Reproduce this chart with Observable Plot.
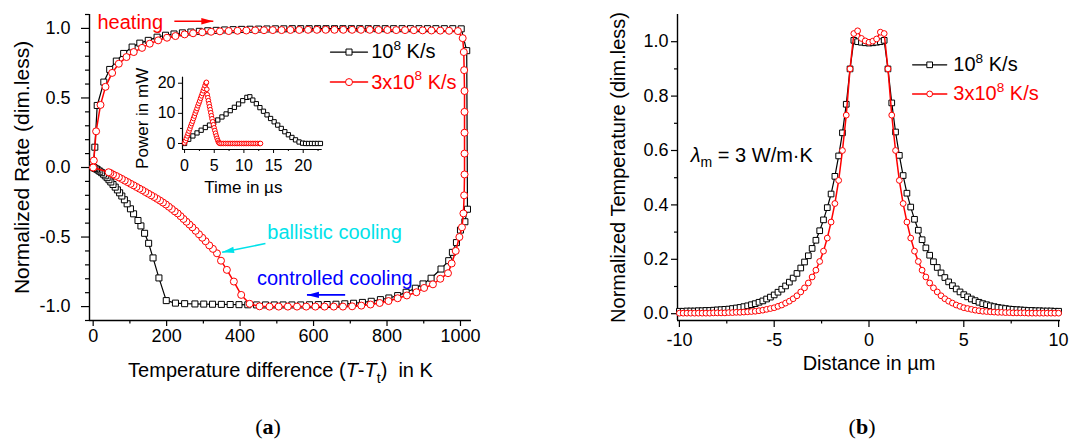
<!DOCTYPE html>
<html><head><meta charset="utf-8">
<script src="https://cdn.jsdelivr.net/npm/d3@7"></script>
<script src="https://cdn.jsdelivr.net/npm/@observablehq/plot@0.6"></script>
<style>
html,body{margin:0;padding:0;background:#fff;}
#fig{position:relative;width:1069px;height:439px;overflow:hidden;font-family:"Liberation Sans",Arial,sans-serif;}
.panel{position:absolute;}
.cap{position:absolute;top:414px;font-family:"Liberation Serif","Times New Roman",serif;font-size:22px;transform:translateX(-50%);color:#000;}
</style></head>
<body>
<div id="fig">
  <div id="pa" class="panel" style="left:0;top:0;width:540px;height:390px"></div>
  <div id="pin" class="panel" style="left:100px;top:60px;width:240px;height:150px"></div>
  <div id="pb" class="panel" style="left:560px;top:0;width:509px;height:390px"></div>
  <div class="cap" style="left:268px">(<b>a</b>)</div>
  <div class="cap" style="left:862px">(<b>b</b>)</div>
</div>
<script>
// ---------------- DATA: panel (a) normalized rate vs temperature difference ----------------
// [T - Tt in K, normalized rate]
const blackHeating = [[0,0],[4.5,0.146],[11,0.446],[29,0.614],[45,0.705],[63,0.765],[83,0.82],[106,0.866],[127,0.894],[150,0.914],[174,0.937],[197,0.951],[220,0.96],[243,0.968],[266,0.974],[289,0.979],[312,0.983],[335,0.986],[358,0.989],[381,0.991],[404,0.993],[427,0.994],[450,0.995],[473,0.996],[496,0.997],[519,0.997],[542,0.998],[565,0.998],[588,0.998],[611,0.998],[634,0.998],[657,0.998],[680,0.998],[703,0.998],[726,0.998],[749,0.998],[772,0.998],[795,0.998],[818,0.998],[841,0.998],[864,0.998],[887,0.998],[910,0.998],[933,0.998],[956,0.998],[979,0.998],[1002,0.997]];
const blackCooling = [[1017,0.84],[1019,-0.3],[1012,-0.39],[1000,-0.45],[989,-0.54],[978,-0.61],[968,-0.67],[947,-0.73],[920,-0.796],[898,-0.837],[877,-0.868],[852,-0.897],[829,-0.921],[805,-0.938],[782,-0.95],[757,-0.962],[733,-0.97],[709,-0.976],[685,-0.98],[661,-0.983],[637,-0.985],[613,-0.986],[589,-0.987],[565,-0.988],[541,-0.988],[517,-0.988],[493,-0.988],[469,-0.988],[445,-0.988],[421,-0.987],[397,-0.986],[373,-0.985],[349,-0.984],[325,-0.983],[301,-0.982],[277,-0.981],[249,-0.979],[224,-0.975],[199,-0.957],[179,-0.794],[163,-0.65],[151,-0.545],[140,-0.473],[130,-0.42],[122,-0.381],[110,-0.333],[101.5,-0.297],[92.5,-0.261],[85,-0.232],[78,-0.205],[72,-0.182],[66,-0.161],[60,-0.141],[54,-0.122],[48,-0.104],[43,-0.088],[38,-0.073],[33,-0.06],[28,-0.048],[23,-0.037],[18,-0.027],[13,-0.018],[9,-0.011],[5,-0.006],[2,-0.002],[0,0]];
const redHeating = [[0,0],[1.7,0.05],[8,0.26],[20,0.45],[33.5,0.58],[51.6,0.68],[69.7,0.746],[90.6,0.794],[110.5,0.83],[133,0.86],[154,0.89],[177,0.914],[201,0.933],[224,0.945],[249,0.957],[272,0.965],[297,0.972],[321,0.976],[345,0.979],[369,0.981],[393,0.983],[417,0.985],[441,0.986],[465,0.987],[489,0.988],[513,0.988],[537,0.989],[561,0.989],[585,0.99],[609,0.99],[633,0.99],[657,0.99],[681,0.99],[705,0.99],[729,0.99],[753,0.99],[777,0.989],[801,0.989],[825,0.988],[849,0.988],[873,0.987],[897,0.986],[921,0.985],[945,0.984],[969,0.983],[993,0.981]];
const redCooling = [[1006,0.93],[1009,0.83],[1010,0.7],[1011,0.55],[1011,0.4],[1011,0.25],[1011,0.1],[1011,-0.05],[1010,-0.2],[1008,-0.33],[1004,-0.43],[997,-0.5],[987,-0.6],[976,-0.69],[966,-0.76],[945,-0.8],[925,-0.84],[901,-0.866],[880,-0.897],[854,-0.92],[829,-0.94],[804,-0.96],[780,-0.974],[755,-0.985],[730,-0.993],[705,-0.998],[680,-1.0],[655,-1.0],[630,-1.0],[605,-1.0],[580,-1.0],[555,-1.0],[530,-1.0],[505,-1.0],[480,-1.0],[453,-0.998],[426,-0.98],[403,-0.916],[383,-0.82],[364,-0.736],[348,-0.67],[337,-0.617],[326,-0.585],[316,-0.56],[306,-0.53],[297,-0.505],[288,-0.48],[279,-0.455],[270,-0.43],[262,-0.41],[254,-0.39],[246,-0.37],[238,-0.35],[230,-0.33],[222,-0.315],[214,-0.298],[206,-0.282],[198,-0.266],[190,-0.252],[182,-0.238],[174,-0.225],[166,-0.212],[158,-0.2],[150,-0.188],[142,-0.176],[134,-0.163],[126,-0.152],[118,-0.14],[110,-0.128],[102,-0.117],[94,-0.105],[86,-0.094],[78,-0.082],[70,-0.071],[62,-0.06],[54,-0.05],[47,-0.04],[42,-0.034],[0,0]];
const rateXTicks = [0,200,400,600,800,1000];
const rateXMinor = [100,300,500,700,900];
const rateYTicks = [-1,-0.5,0,0.5,1];
const rateYMinor = [-1.1,-0.9,-0.8,-0.7,-0.6,-0.4,-0.3,-0.2,-0.1,0.1,0.2,0.3,0.4,0.6,0.7,0.8,0.9,1.1];

// ---------------- DATA: inset, power vs time ----------------
// [time in µs, power in mW]
const insetBlack = [[0,0],[0.7,1.4],[1.4,2.5],[2.1,3.5],[2.8,4.4],[3.5,5.3],[4.2,6.1],[4.9,6.9],[5.6,7.8],[6.3,8.8],[7.0,9.8],[7.7,10.9],[8.4,12.0],[9.1,13.1],[9.8,14.2],[10.5,15.3],[11.0,15.5],[11.5,14.4],[12.1,13.2],[12.7,11.9],[13.3,10.7],[13.9,9.5],[14.5,8.3],[15.1,7.2],[15.7,6.1],[16.3,5.0],[16.9,3.9],[17.5,2.9],[18.1,2.0],[18.7,1.2],[19.3,0.5],[19.9,0.1],[20.4,0],[20.9,0],[21.4,0],[21.9,0],[22.4,0],[22.9,0]];
const insetRed = [[0,0.2],[0.15,0.9],[0.3,1.7],[0.45,2.5],[0.6,3.3],[0.75,4.1],[0.9,4.9],[1.05,5.8],[1.2,6.6],[1.35,7.4],[1.5,8.3],[1.65,9.1],[1.8,10.0],[1.95,10.8],[2.1,11.6],[2.25,12.5],[2.4,13.3],[2.55,14.1],[2.7,15.0],[2.85,15.8],[3.0,16.6],[3.15,17.5],[3.3,18.3],[3.45,19.2],[3.6,20.0],[3.68,20.3],[3.75,18.0],[3.82,16.2],[3.92,15.2],[4.02,14.2],[4.12,13.2],[4.22,12.2],[4.32,11.2],[4.42,10.2],[4.52,9.2],[4.62,8.2],[4.74,7.2],[4.86,6.2],[4.98,5.2],[5.1,4.3],[5.22,3.4],[5.35,2.5],[5.48,1.7],[5.6,1.0],[5.72,0.4],[5.85,0.1],[6.0,0],[6.3,0],[6.6,0],[6.9,0],[7.2,0],[7.5,0],[7.8,0],[8.1,0],[8.4,0],[8.7,0],[9.0,0],[9.3,0],[9.6,0],[9.9,0],[10.2,0],[10.5,0],[10.8,0],[11.1,0],[11.4,0],[11.7,0],[12.0,0],[12.3,0],[12.6,0],[12.8,0]];
const insetXTicks = [0,5,10,15,20];
const insetXMinor = [2.5,7.5,12.5,17.5,22.5];
const insetYTicks = [0,10,20];
const insetYMinor = [5,15];

// ---------------- DATA: panel (b) normalized temperature vs distance ----------------
const distance = [-10,-9.8,-9.6,-9.4,-9.2,-9,-8.8,-8.6,-8.4,-8.2,-8,-7.8,-7.6,-7.4,-7.2,-7,-6.8,-6.6,-6.4,-6.2,-6,-5.8,-5.6,-5.4,-5.2,-5,-4.8,-4.6,-4.4,-4.2,-4,-3.8,-3.6,-3.4,-3.2,-3,-2.8,-2.6,-2.4,-2.2,-2,-1.8,-1.6,-1.4,-1.2,-1,-0.8,-0.6,-0.4,-0.2,0,0.2,0.4,0.6,0.8,1,1.2,1.4,1.6,1.8,2,2.2,2.4,2.6,2.8,3,3.2,3.4,3.6,3.8,4,4.2,4.4,4.6,4.8,5,5.2,5.4,5.6,5.8,6,6.2,6.4,6.6,6.8,7,7.2,7.4,7.6,7.8,8,8.2,8.4,8.6,8.8,9,9.2,9.4,9.6,9.8,10];
const tempBlack = [0.009,0.009,0.010,0.010,0.010,0.011,0.011,0.012,0.012,0.013,0.014,0.015,0.016,0.017,0.019,0.021,0.023,0.026,0.029,0.033,0.037,0.042,0.047,0.054,0.061,0.069,0.079,0.09,0.102,0.116,0.131,0.148,0.168,0.19,0.213,0.24,0.27,0.305,0.345,0.39,0.44,0.505,0.58,0.665,0.77,0.90,1.005,1.0,0.998,0.996,0.995,0.996,0.998,1.0,1.005,0.90,0.775,0.668,0.582,0.508,0.443,0.392,0.347,0.307,0.272,0.242,0.215,0.191,0.17,0.15,0.133,0.117,0.103,0.091,0.08,0.07,0.062,0.054,0.048,0.042,0.037,0.033,0.029,0.026,0.023,0.021,0.019,0.017,0.016,0.015,0.014,0.013,0.012,0.012,0.011,0.011,0.010,0.010,0.010,0.009,0.009];
const tempRed = [0.002,0.002,0.002,0.002,0.002,0.002,0.002,0.002,0.002,0.003,0.003,0.003,0.003,0.004,0.004,0.005,0.005,0.006,0.007,0.008,0.009,0.011,0.013,0.016,0.019,0.022,0.027,0.032,0.039,0.046,0.055,0.066,0.08,0.095,0.113,0.135,0.16,0.192,0.23,0.278,0.337,0.405,0.49,0.60,0.73,0.90,1.03,1.04,1.012,1.003,0.998,1.002,1.01,1.035,1.03,0.90,0.73,0.60,0.49,0.405,0.337,0.278,0.23,0.192,0.16,0.135,0.113,0.095,0.08,0.066,0.055,0.046,0.039,0.032,0.027,0.022,0.019,0.016,0.013,0.011,0.009,0.008,0.007,0.006,0.005,0.005,0.004,0.004,0.003,0.003,0.003,0.003,0.002,0.002,0.002,0.002,0.002,0.002,0.002,0.002,0.002];
const distXTicks = [-10,-5,0,5,10];
const distXMinor = [-7.5,-2.5,2.5,7.5];
const tempYTicks = [0,0.2,0.4,0.6,0.8,1.0];
const tempYMinor = [0.1,0.3,0.5,0.7,0.9];

// ---------------- labels ----------------
const seriesLabels = ["10^{8} K/s", "3x10^{8} K/s"];
const annotA = [
  {label: "heating", T: 11.7, r: 1.044, color: "#ff0000"},
  {label: "ballistic cooling", T: 474, r: -0.465, color: "#00e2ea"},
  {label: "controlled cooling", T: 446, r: -0.799, color: "#0000ff"}
];
const arrowsA = [
  {T1: 221, r1: 1.052, T2: 327, r2: 1.052, color: "#ff0000"},
  {T1: 469, r1: -0.547, T2: 351, r2: -0.609, color: "#00e2ea"},
  {T1: 686, r1: -0.916, T2: 582, r2: -0.916, color: "#0000ff"}
];
const legendA = {T1: 646, T2: 747, Tm: 696.5, Ttext: 757, rBlack: 0.83, rRed: 0.614};
const legendB = {x1: 2.3, x2: 4.1, xm: 3.2, xtext: 4.45, yBlack: 0.915, yRed: 0.808};
const lambdaNote = {text: "*{λ}_{m} = 3 W/m·K", x: -9.4, y: 0.582};

// ---------------- helpers ----------------
const FONT = '"Liberation Sans", Arial, sans-serif';
const BLACK = "#000000", RED = "#ff0000";
const toObj = (arr) => arr.map(([x, y]) => ({x, y}));

function richText(root) {
  root.querySelectorAll("text").forEach(t => {
    const s = t.textContent;
    if (!/[\^_*]\{/.test(s)) return;
    const fs = parseFloat(getComputedStyle(t).fontSize) || 16;
    const re = /([\^_*])\{([^}]*)\}/g;
    const parts = []; let last = 0, m;
    while ((m = re.exec(s))) {
      if (m.index > last) parts.push([null, s.slice(last, m.index)]);
      parts.push([m[1], m[2]]);
      last = re.lastIndex;
    }
    if (last < s.length) parts.push([null, s.slice(last)]);
    while (t.firstChild) t.removeChild(t.firstChild);
    let off = 0;
    for (const [k, str] of parts) {
      const ts = document.createElementNS("http://www.w3.org/2000/svg", "tspan");
      ts.textContent = str;
      let target = 0;
      if (k === "^") { target = -0.42 * fs; ts.setAttribute("font-size", 0.68 * fs); }
      else if (k === "_") { target = 0.28 * fs; ts.setAttribute("font-size", 0.7 * fs); }
      else if (k === "*") { ts.setAttribute("font-style", "italic"); }
      if (target !== off) { ts.setAttribute("dy", target - off); off = target; }
      t.appendChild(ts);
    }
    t.style.whiteSpace = "pre";
  });
}

const arrowHead = {draw(ctx) { ctx.moveTo(0, 0); ctx.lineTo(-3.2, 12); ctx.lineTo(3.2, 12); ctx.closePath(); }};

function seriesMarks(data, color, symbol, r, sw) {
  return [
    Plot.line(data, {x: "x", y: "y", stroke: color, strokeWidth: sw}),
    Plot.dot(data, {x: "x", y: "y", symbol, r, stroke: color, fill: "#fff", strokeWidth: 1})
  ];
}
function legendMarks(x1, x2, xm, y, color, symbol, r, sw) {
  return [
    Plot.line([{x: x1, y}, {x: x2, y}], {x: "x", y: "y", stroke: color, strokeWidth: sw}),
    Plot.dot([{x: xm, y}], {x: "x", y: "y", symbol, r, stroke: color, fill: "#fff", strokeWidth: 1})
  ];
}
function labelMark(text, x, y, color, size) {
  return Plot.text([{text, x, y}], {x: "x", y: "y", text: "text", textAnchor: "start", lineAnchor: "middle", fontSize: size, fill: color});
}

// ---------------- panel (a) ----------------
const A = {width: 540, height: 390, ml: 89, mr: 69, mt: 14, mb: 70, xd: [-10, 1030], yd: [-1.1, 1.1]};
const sxA = d3.scaleLinear(A.xd, [A.ml, A.width - A.mr]);
const syA = d3.scaleLinear(A.yd, [A.height - A.mb, A.mt]);

const marksA = [
  Plot.axisX({ticks: rateXTicks, tickSize: 6, tickPadding: 3, fontSize: 18, label: null, strokeWidth: 1.2, tickFormat: d => String(d)}),
  Plot.axisX({ticks: rateXMinor, tickSize: 3.5, tickFormat: () => "", label: null, strokeWidth: 1.2}),
  Plot.axisY({ticks: rateYTicks, tickSize: 8, tickPadding: 11, tickFormat: d => d.toFixed(1), fontSize: 18, label: null, strokeWidth: 1.2}),
  Plot.axisY({ticks: rateYMinor, tickSize: 4, tickFormat: () => "", label: null, strokeWidth: 1.2}),
  Plot.ruleX([A.xd[0]], {strokeWidth: 1.4}),
  Plot.ruleY([A.yd[0]], {strokeWidth: 1.4}),
  ...seriesMarks(toObj([...blackHeating, ...blackCooling]), BLACK, "square", 3.4, 1.2),
  ...seriesMarks(toObj([...redHeating, ...redCooling]), RED, "circle", 3.5, 1.5),
  // legend
  ...legendMarks(legendA.T1, legendA.T2, legendA.Tm, legendA.rBlack, BLACK, "square", 3.4, 1.2),
  ...legendMarks(legendA.T1, legendA.T2, legendA.Tm, legendA.rRed, RED, "circle", 3.5, 1.5),
  labelMark(seriesLabels[0], legendA.Ttext, legendA.rBlack, BLACK, 20),
  labelMark(seriesLabels[1], legendA.Ttext, legendA.rRed, RED, 20),
  // annotations
  ...annotA.map(a => labelMark(a.label, a.T, a.r, a.color, 20)),
  ...arrowsA.flatMap(a => [
    Plot.link([a], {x1: "T1", y1: "r1", x2: "T2", y2: "r2", stroke: a.color, strokeWidth: 1.6}),
    Plot.dot([a], {x: "T2", y: "r2", symbol: arrowHead, fill: a.color, stroke: "none",
      rotate: Math.atan2(syA(a.r2) - syA(a.r1), sxA(a.T2) - sxA(a.T1)) * 180 / Math.PI + 90})
  ]),
  // axis titles
  Plot.text(["Normalized Rate (dim.less)"], {frameAnchor: "left", dx: -67, rotate: -90, text: d => d, textAnchor: "middle", lineAnchor: "middle", fontSize: 21}),
  Plot.text(["Temperature difference (*{T}-*{T}_{t})  in K"], {frameAnchor: "bottom", dy: 50, text: d => d, textAnchor: "middle", lineAnchor: "middle", fontSize: 20})
];

const plotA = Plot.plot({
  width: A.width, height: A.height, marginLeft: A.ml, marginRight: A.mr, marginTop: A.mt, marginBottom: A.mb,
  style: {background: "transparent", fontFamily: FONT, fontSize: "18px", color: "#000", overflow: "visible"},
  x: {domain: A.xd}, y: {domain: A.yd},
  marks: marksA
});
document.getElementById("pa").appendChild(plotA);
richText(plotA);

// ---------------- inset ----------------
const plotIn = Plot.plot({
  width: 240, height: 150, marginLeft: 82, marginRight: 18.3, marginTop: 16.7, marginBottom: 61,
  style: {background: "transparent", fontFamily: FONT, fontSize: "16px", color: "#000", overflow: "visible"},
  x: {domain: [-0.35, 23.2]}, y: {domain: [-2, 22]},
  marks: [
    Plot.axisX({ticks: insetXTicks, tickSize: 4, tickPadding: 6, fontSize: 16, label: null, strokeWidth: 1}),
    Plot.axisX({ticks: insetXMinor, tickSize: 2, tickFormat: () => "", label: null, strokeWidth: 1}),
    Plot.axisY({ticks: insetYTicks, tickSize: 4, tickPadding: 3, fontSize: 16, label: null, strokeWidth: 1}),
    Plot.axisY({ticks: insetYMinor, tickSize: 2, tickFormat: () => "", label: null, strokeWidth: 1}),
    Plot.ruleX([-0.35], {strokeWidth: 1.2}),
    Plot.ruleY([-2], {strokeWidth: 1.2}),
    ...seriesMarks(toObj(insetBlack), BLACK, "square", 2.4, 1),
    ...seriesMarks(toObj(insetRed), RED, "circle", 2.3, 1.2),
    Plot.text(["Power in mW"], {frameAnchor: "left", dx: -40, dy: 5, rotate: -90, text: d => d, textAnchor: "middle", lineAnchor: "middle", fontSize: 17}),
    Plot.text(["Time in µs"], {frameAnchor: "bottom", dx: -9, dy: 38, text: d => d, textAnchor: "middle", lineAnchor: "middle", fontSize: 17})
  ]
});
document.getElementById("pin").appendChild(plotIn);

// ---------------- panel (b) ----------------
const profBlack = distance.map((x, i) => ({x, y: tempBlack[i]}));
const profRed = distance.map((x, i) => ({x, y: tempRed[i]}));
const plotB = Plot.plot({
  width: 509, height: 390, marginLeft: 117, marginRight: 9, marginTop: 14, marginBottom: 70,
  style: {background: "transparent", fontFamily: FONT, fontSize: "18px", color: "#000", overflow: "visible"},
  x: {domain: [-10.1, 10.1]}, y: {domain: [-0.025, 1.1]},
  marks: [
    Plot.axisX({ticks: distXTicks, tickSize: 7, tickPadding: 6, fontSize: 18, label: null, strokeWidth: 1.2, tickFormat: d => String(d)}),
    Plot.axisX({ticks: distXMinor, tickSize: 3.5, tickFormat: () => "", label: null, strokeWidth: 1.2}),
    Plot.axisY({ticks: tempYTicks, tickSize: 6, tickPadding: 3, tickFormat: d => d.toFixed(1), fontSize: 18, label: null, strokeWidth: 1.2}),
    Plot.axisY({ticks: tempYMinor, tickSize: 3, tickFormat: () => "", label: null, strokeWidth: 1.2}),
    Plot.ruleX([-10.1], {strokeWidth: 1.4}),
    Plot.ruleY([-0.025], {strokeWidth: 1.4}),
    ...seriesMarks(profBlack, BLACK, "square", 3.2, 1.2),
    ...seriesMarks(profRed, RED, "circle", 2.9, 1.5),
    ...legendMarks(legendB.x1, legendB.x2, legendB.xm, legendB.yBlack, BLACK, "square", 3.2, 1.2),
    ...legendMarks(legendB.x1, legendB.x2, legendB.xm, legendB.yRed, RED, "circle", 2.9, 1.5),
    labelMark(seriesLabels[0], legendB.xtext, legendB.yBlack, BLACK, 20),
    labelMark(seriesLabels[1], legendB.xtext, legendB.yRed, RED, 20),
    labelMark(lambdaNote.text, lambdaNote.x, lambdaNote.y, BLACK, 20),
    Plot.text(["Normalized Temperature (dim.less)"], {frameAnchor: "left", dx: -59, rotate: -90, text: d => d, textAnchor: "middle", lineAnchor: "middle", fontSize: 20}),
    Plot.text(["Distance in µm"], {frameAnchor: "bottom", dy: 43, text: d => d, textAnchor: "middle", lineAnchor: "middle", fontSize: 20})
  ]
});
document.getElementById("pb").appendChild(plotB);
richText(plotB);
</script>
</body></html>
